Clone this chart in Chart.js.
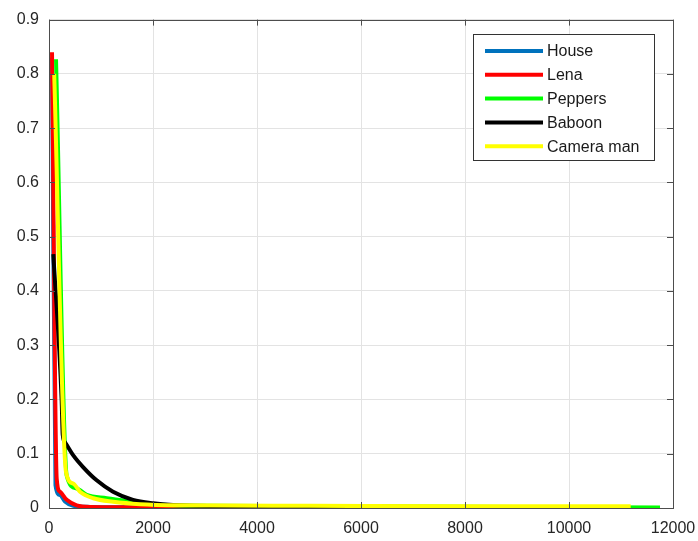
<!DOCTYPE html>
<html>
<head>
<meta charset="utf-8">
<script src="https://cdn.jsdelivr.net/npm/chart.js@4.4.1/dist/chart.umd.min.js"></script>
<style>
  html, body { margin: 0; padding: 0; background: #fff; }
  #wrap { width: 698px; height: 541px; }
</style>
</head>
<body>
<div id="wrap"><canvas id="myChart" width="698" height="541"></canvas></div>
<script>
// values
const seriesNames = ['House', 'Lena', 'Peppers', 'Baboon', 'Camera man']
const seriesColors = ['#0072BD', '#FF0000', '#00FF00', '#000000', '#FFFF00']

const houseX = [58, 125, 212, 308, 467, 800, 1500, 3000, 6000, 9000, 11000]
const houseY = [0.83, 0.042, 0.024, 0.012, 0.004, 0.002, 0.0015, 0.001, 0.001, 0.001, 0.001]

const lenaX = [58, 148, 212, 340, 532, 788, 1500, 4000, 8000, 11000]
const lenaY = [0.84, 0.054, 0.030, 0.015, 0.005, 0.002, 0.0015, 0.001, 0.001, 0.001]

const peppersX = [135, 340, 532, 725, 1110, 1621, 2000, 3000, 6000, 9000, 11750]
const peppersY = [0.827, 0.060, 0.036, 0.024, 0.018, 0.0115, 0.007, 0.004, 0.003, 0.002, 0.001]

const baboonX = [83, 244, 263, 308, 467, 660, 917, 1231, 1615, 2000, 2385, 4000, 7000, 11000]
const baboonY = [0.468, 0.197, 0.136, 0.121, 0.097, 0.075, 0.051, 0.030, 0.015, 0.0086, 0.0055, 0.003, 0.002, 0.001]

const cameraX = [100, 327, 467, 596, 852, 1237, 1750, 2500, 5000, 8000, 11186]
const cameraY = [0.80, 0.066, 0.045, 0.030, 0.018, 0.0115, 0.007, 0.005, 0.004, 0.003, 0.003]

const xTicks = [0, 2000, 4000, 6000, 8000, 10000, 12000]
const yTicks = [0, 0.1, 0.2, 0.3, 0.4, 0.5, 0.6, 0.7, 0.8, 0.9]

const allX = [houseX, lenaX, peppersX, baboonX, cameraX]
const allY = [houseY, lenaY, peppersY, baboonY, cameraY]

function toPoints(xs, ys) {
    let pts = []
    for (let i = 0; i < xs.length; i++) {
        pts.push({ x: xs[i], y: ys[i] })
    }
    return pts
}

let datasets = []
for (let i = 0; i < seriesNames.length; i++) {
    datasets.push({
        label: seriesNames[i],
        data: toPoints(allX[i], allY[i]),
        borderColor: seriesColors[i],
        backgroundColor: seriesColors[i],
        borderWidth: 4,
        pointRadius: 0,
        cubicInterpolationMode: 'monotone',
        order: seriesNames.length - 1 - i   // last series on top, like matlab
    })
}

const FONT = 'Liberation Sans, Arial, sans-serif'

// box, inner ticks and legend drawn the matlab way
const matlabBox = {
    id: 'matlabBox',
    afterDraw(chart) {
        const ctx = chart.ctx
        const a = chart.chartArea
        const xs = chart.scales.x
        const ys = chart.scales.y
        ctx.save()
        ctx.strokeStyle = '#4d4d4d'
        ctx.lineWidth = 1
        ctx.beginPath()
        for (let v of xTicks) {
            let px = Math.round(xs.getPixelForValue(v)) + 0.5
            ctx.moveTo(px, a.bottom); ctx.lineTo(px, a.bottom - 6)
            ctx.moveTo(px, a.top); ctx.lineTo(px, a.top + 6)
        }
        for (let v of yTicks) {
            let py = Math.round(ys.getPixelForValue(v)) + 0.5
            ctx.moveTo(a.left, py); ctx.lineTo(a.left + 6, py)
            ctx.moveTo(a.right, py); ctx.lineTo(a.right - 6, py)
        }
        ctx.stroke()
        ctx.strokeRect(Math.round(a.left) + 0.5, Math.round(a.top) + 0.5, Math.round(a.right - a.left), Math.round(a.bottom - a.top))

        // legend
        const lx = 473, ly = 34, lw = 181, lh = 126
        ctx.fillStyle = '#ffffff'
        ctx.fillRect(lx, ly, lw, lh)
        ctx.strokeStyle = '#333333'
        ctx.strokeRect(lx + 0.5, ly + 0.5, lw, lh)
        ctx.font = '16px ' + FONT
        ctx.textBaseline = 'middle'
        ctx.textAlign = 'left'
        for (let i = 0; i < seriesNames.length; i++) {
            let yy = 51 + i * 23.8
            ctx.strokeStyle = seriesColors[i]
            ctx.lineWidth = 4
            ctx.beginPath()
            ctx.moveTo(485, yy); ctx.lineTo(543, yy)
            ctx.stroke()
            ctx.fillStyle = '#1a1a1a'
            ctx.fillText(seriesNames[i], 547, yy + 1)
        }
        ctx.restore()
    }
}

const ctx = document.getElementById('myChart').getContext('2d')
new Chart(ctx, {
    type: 'line',
    data: { datasets: datasets },
    options: {
        responsive: false,
        animation: false,
        layout: { padding: { left: 0, top: 15, right: 25, bottom: 0 } },
        plugins: {
            legend: { display: false },
            tooltip: { enabled: false }
        },
        scales: {
            x: {
                type: 'linear',
                min: 0,
                max: 12000,
                afterBuildTicks: (s) => { s.ticks = xTicks.map(v => ({ value: v })) },
                afterFit: (s) => { s.height = 33; s.paddingLeft = 0; s.paddingRight = 0 },
                grid: { color: '#e3e3e3', drawTicks: false },
                border: { display: false },
                ticks: { color: '#262626', font: { family: FONT, size: 16 }, padding: 11, maxRotation: 0,
                    callback: (v) => String(v) }
            },
            y: {
                type: 'linear',
                min: 0,
                max: 0.9,
                afterBuildTicks: (s) => { s.ticks = yTicks.map(v => ({ value: v })) },
                afterFit: (s) => { s.width = 49 },
                grid: { color: '#e3e3e3', drawTicks: false },
                border: { display: false },
                ticks: { color: '#262626', font: { family: FONT, size: 16 }, padding: 10,
                    callback: (v) => Number(v.toFixed(1)).toString() }
            }
        }
    },
    plugins: [matlabBox]
})
</script>
</body>
</html>
